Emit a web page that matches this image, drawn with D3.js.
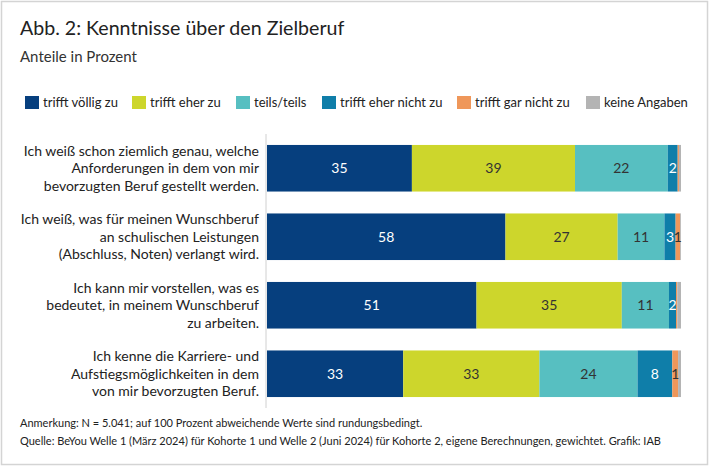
<!DOCTYPE html>
<html>
<head>
<meta charset="utf-8">
<script src="https://cdn.jsdelivr.net/npm/d3@7"></script>
<style>
  body { margin: 0; background: #fff; }
  text { font-family: Lato, "Open Sans", sans-serif; }
</style>
</head>
<body>
<script>
// Daten
var kategorien = [
  ["Ich weiß schon ziemlich genau, welche", "Anforderungen in dem von mir", "bevorzugten Beruf gestellt werden."],
  ["Ich weiß, was für meinen Wunschberuf", "an schulischen Leistungen", "(Abschluss, Noten) verlangt wird."],
  ["Ich kann mir vorstellen, was es", "bedeutet, in meinem Wunschberuf", "zu arbeiten."],
  ["Ich kenne die Karriere- und", "Aufstiegsmöglichkeiten in dem", "von mir bevorzugten Beruf."]
];
var serien = ["trifft völlig zu", "trifft eher zu", "teils/teils", "trifft eher nicht zu", "trifft gar nicht zu", "keine Angaben"];
var farben = ["#063f7e", "#cdd62c", "#57bfc1", "#0f7ea9", "#ef975a", "#b4b4b4"];
var werte = [
  [35.0, 39.4, 22.4, 2.4, 0.3, 0.5],
  [57.6, 27.1, 11.3, 2.7, 1.1, 0.2],
  [50.6, 35.1, 11.4, 1.7, 0.3, 0.9],
  [32.9, 32.9, 23.7, 8.4, 1.4, 0.7]
];
var textHell = [true, false, false, true, false, false];

var breite = 710, hoehe = 468;

var svg = d3.select("body").append("svg")
    .attr("width", breite)
    .attr("height", hoehe);

// Rahmen
svg.append("rect")
    .attr("x", 1.5).attr("y", 1.5)
    .attr("width", 706).attr("height", 463)
    .style("fill", "#fff")
    .style("stroke", "#d4d4d4")
    .style("stroke-width", 1.5);

// Titel
svg.append("text").attr("x", 20).attr("y", 35)
    .style("font-size", "19.6px").style("fill", "#222")
    .text("Abb. 2: Kenntnisse über den Zielberuf");
svg.append("text").attr("x", 20).attr("y", 62)
    .style("font-size", "15px").style("fill", "#333")
    .text("Anteile in Prozent");

// Legende
var legendeX = [25, 132, 236, 322, 457, 586];
var legende = svg.selectAll(".leg").data(serien).enter().append("g")
    .attr("transform", function(d, i) { return "translate(" + legendeX[i] + ",96)"; });
legende.append("rect")
    .attr("width", 14).attr("height", 13)
    .style("fill", function(d, i) { return farben[i]; });
legende.append("text")
    .attr("x", 18).attr("y", 11)
    .style("font-size", "13px").style("fill", "#222")
    .text(function(d) { return d; });

// Skalen
var x = d3.scaleLinear().domain([0, 100]).range([267, 681]);
var y = d3.scaleBand().domain(d3.range(kategorien.length)).range([134, 408]).paddingInner(0.32).paddingOuter(0.16);

// gestapelte Daten
var stapel = [];
werte.forEach(function(zeile, r) {
  var start = 0;
  zeile.forEach(function(v, s) {
    stapel.push({ r: r, s: s, x0: start, x1: start + v, v: v });
    start += v;
  });
});

svg.selectAll(".balken").data(stapel).enter().append("rect")
    .attr("x", function(d) { return x(d.x0); })
    .attr("y", function(d) { return y(d.r); })
    .attr("width", function(d) { return x(d.x1) - x(d.x0); })
    .attr("height", y.bandwidth())
    .style("fill", function(d) { return farben[d.s]; });

svg.selectAll(".wert").data(stapel.filter(function(d) { return d.v >= 1; })).enter().append("text")
    .attr("x", function(d) { return (x(d.x0) + x(d.x1)) / 2; })
    .attr("y", function(d) { return y(d.r) + y.bandwidth() / 2 + 5; })
    .attr("text-anchor", "middle")
    .style("font-size", "14px")
    .style("fill", function(d) { return textHell[d.s] ? "#fff" : "#333"; })
    .text(function(d) { return Math.round(d.v); });

// Achsenlinie
svg.append("line")
    .attr("x1", 266).attr("x2", 266)
    .attr("y1", 134).attr("y2", 408)
    .style("stroke", "#d0d0d0").style("stroke-width", 1);

// Kategorien
kategorien.forEach(function(zeilen, r) {
  var mitte = y(r) + y.bandwidth() / 2;
  var t = svg.append("text")
      .attr("text-anchor", "end")
      .style("font-size", "14px").style("fill", "#222");
  zeilen.forEach(function(z, k) {
    t.append("tspan")
        .attr("x", 259)
        .attr("y", mitte + (k - 1) * 17.5 + 5)
        .text(z);
  });
});

// Fußnoten
svg.append("text").attr("x", 20).attr("y", 427)
    .style("font-size", "11px").style("fill", "#222")
    .text("Anmerkung: N = 5.041; auf 100 Prozent abweichende Werte sind rundungsbedingt.");
svg.append("text").attr("x", 20).attr("y", 445)
    .style("font-size", "11px").style("fill", "#222")
    .text("Quelle: BeYou Welle 1 (März 2024) für Kohorte 1 und Welle 2 (Juni 2024) für Kohorte 2, eigene Berechnungen, gewichtet.  Grafik: IAB");
</script>
</body>
</html>
